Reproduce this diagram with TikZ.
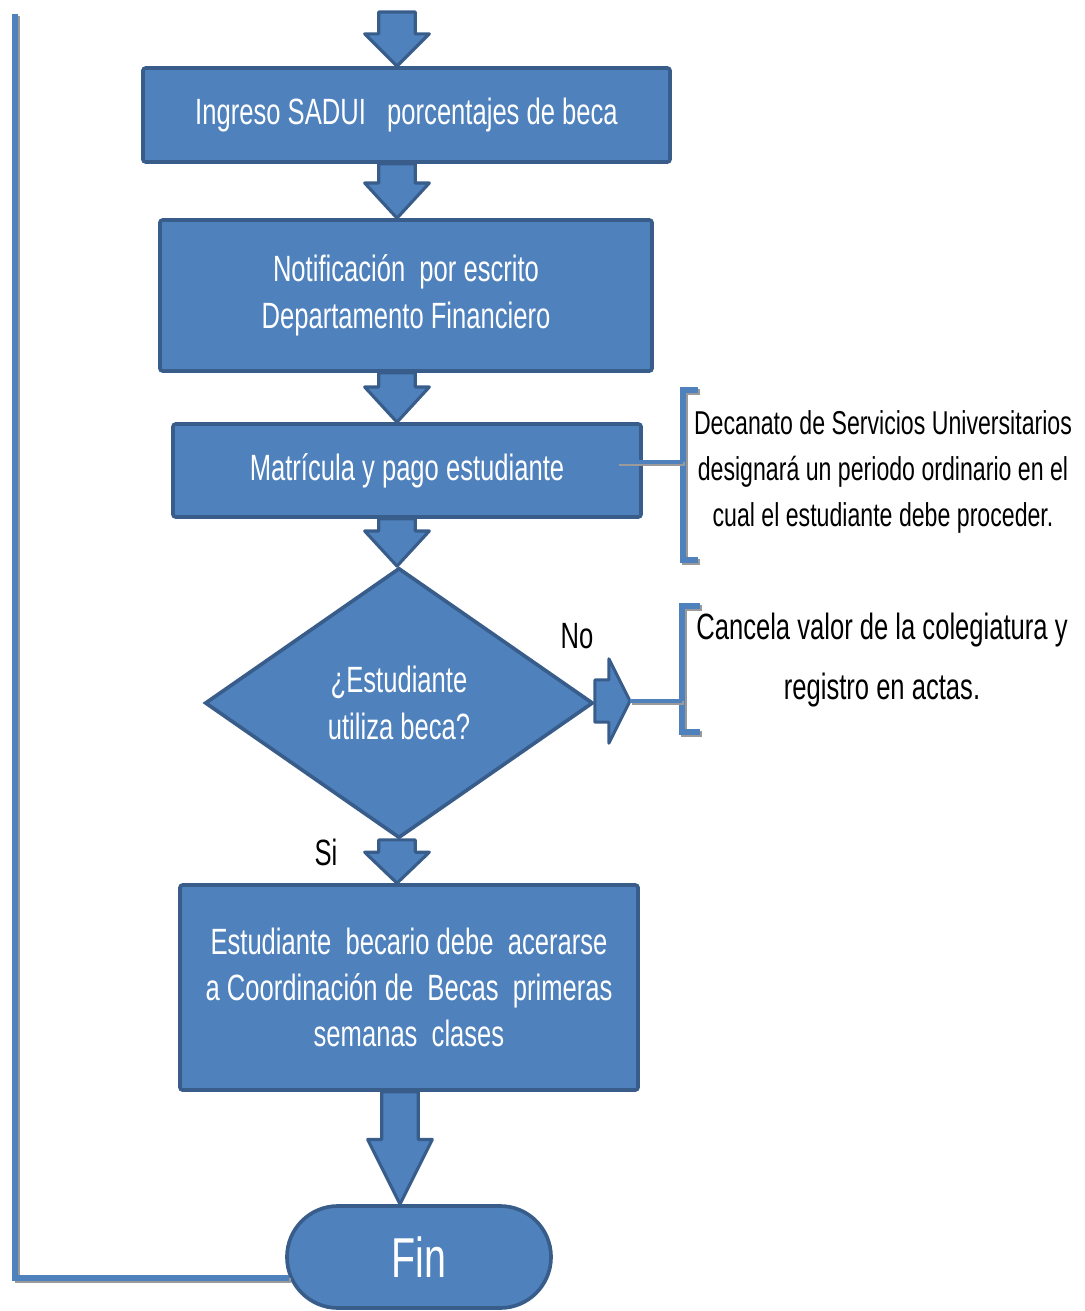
\documentclass[tikz,border=0pt]{standalone}
\usepackage{fontspec}
\setmainfont{Liberation Sans}[FakeStretch=0.7]
\usepackage{tikz}
\usetikzlibrary{shapes.geometric, shapes.misc, calc}
\definecolor{flowfill}{HTML}{4F81BD}
\definecolor{flowedge}{HTML}{385D8A}
\definecolor{flowshade}{HTML}{9A9A9A}

\newcommand{\boxfont}{\fontsize{26}{33}\selectfont}
\newcommand{\notefont}{\fontsize{23.5}{32.7}\selectfont}

% block arrow pointing down: start, tip, head length
\newcommand{\arrowdown}[3]{%
  \draw[blockarrow] let \p1=(#1), \p2=(#2) in
    (\x1-13pt,\y1) -- (\x1+13pt,\y1) -- (\x1+13pt,\y2+#3) -- (\x1+23pt,\y2+#3)
    -- (\x1,\y2) -- (\x1-23pt,\y2+#3) -- (\x1-13pt,\y2+#3) -- cycle;
}
% block arrow pointing right: start, tip
\newcommand{\arrowright}[2]{%
  \draw[blockarrow] let \p1=(#1), \p2=(#2) in
    (\x1,\y2+15pt) -- (\x2-15pt,\y2+15pt) -- (\x2-15pt,\y2+30pt) -- (\x2,\y2)
    -- (\x2-15pt,\y2-30pt) -- (\x2-15pt,\y2-15pt) -- (\x1,\y2-15pt) -- cycle;
}

\begin{document}
\begin{tikzpicture}[
    x=0.025cm, y=-0.025cm,
    flowbox/.style={draw=flowedge, fill=flowfill, line width=2.6pt, rounded corners=2pt,
      text=white, align=center, font=\boxfont, inner sep=0pt},
    blockarrow/.style={draw=flowedge, fill=flowfill, line width=2.2pt, line join=round},
    shadowline/.style={draw=flowfill, line width=#1,
      preaction={draw=flowshade, line width=#1, transform canvas={shift={(1.6pt,-1.6pt)}}}},
    note/.style={align=center, text=black, inner sep=0pt},
  ]
  \useasboundingbox (0,0) rectangle (1085,1311);

  \coordinate (top) at (397,12);
  \node[flowbox, minimum width=13.175cm, minimum height=2.35cm] (ingreso) at (406.5,115)
    {Ingreso SADUI\ \ \ porcentajes de beca};
  \node[flowbox, minimum width=12.3cm, minimum height=3.775cm] (notif) at (406,295.5)
    {Notificación\ \ por escrito\\Departamento Financiero};
  \node[flowbox, minimum width=11.7cm, minimum height=2.325cm] (matric) at (407,470.5)
    {Matrícula y pago estudiante};
  \node[flowbox, shape=diamond, rounded corners=0pt, minimum width=9.7cm, minimum height=6.75cm]
    (usa) at (399,703) {¿Estudiante\\utiliza beca?};
  \node[flowbox, minimum width=11.45cm, minimum height=5.125cm] (becario) at (409,987.5)
    {Estudiante\ \ becario debe\ \ acerarse\\a Coordinación de\ \ Becas\ \ primeras\\semanas\ \ clases};
  \node[flowbox, shape=rounded rectangle, rounded corners=0pt, minimum width=6.6cm,
    minimum height=2.55cm, font=\fontsize{40}{40}\selectfont] (fin) at (419,1257) {Fin};

  % annotations
  \node[note, font=\notefont] (decanato) at (883,472)
    {Decanato de Servicios Universitarios\\designará un periodo ordinario en el\\cual el estudiante debe proceder.};
  \node[note, font=\fontsize{26}{42.7}\selectfont] (cancela) at (882,660)
    {Cancela valor de la colegiatura y\\registro en actas.};
  \node[note, font=\boxfont] (no) at (577,636) {No};
  \node[note, font=\boxfont] (si) at (326,852) {Si};

  % flow arrows
  \arrowdown{top}{ingreso.north -| top}{23pt}
  \arrowdown{ingreso.south -| top}{notif.north -| top}{25pt}
  \arrowdown{notif.south -| top}{matric.north -| top}{25pt}
  \arrowdown{matric.south -| top}{usa.north -| top}{25pt}
  \arrowdown{usa.south -| top}{becario.north -| top}{22pt}
  \coordinate (finarrow) at (400,0);
  \arrowdown{becario.south -| finarrow}{fin.north -| finarrow}{46pt}
  \coordinate (notip) at (630,701);
  \arrowright{usa.east}{notip}

  % brackets and their links
  \coordinate (brk1) at (683,462);
  \coordinate (brk2) at (682,701);
  \draw[shadowline=4pt] (698,390) -| (683,560) -- (698,560);
  \draw[shadowline=4pt] (700,606) -| (682,732) -- (700,732);
  \draw[shadowline=3pt] ($(matric.east |- brk1)+(-26,0)$) -- (brk1);
  \draw[shadowline=3pt] (notip) -- (brk2);

  % return line
  \draw[shadowline=3.6pt] ($(fin.west)+(4,21)$) -- (15,1278) -- (15,14);
\end{tikzpicture}
\end{document}
